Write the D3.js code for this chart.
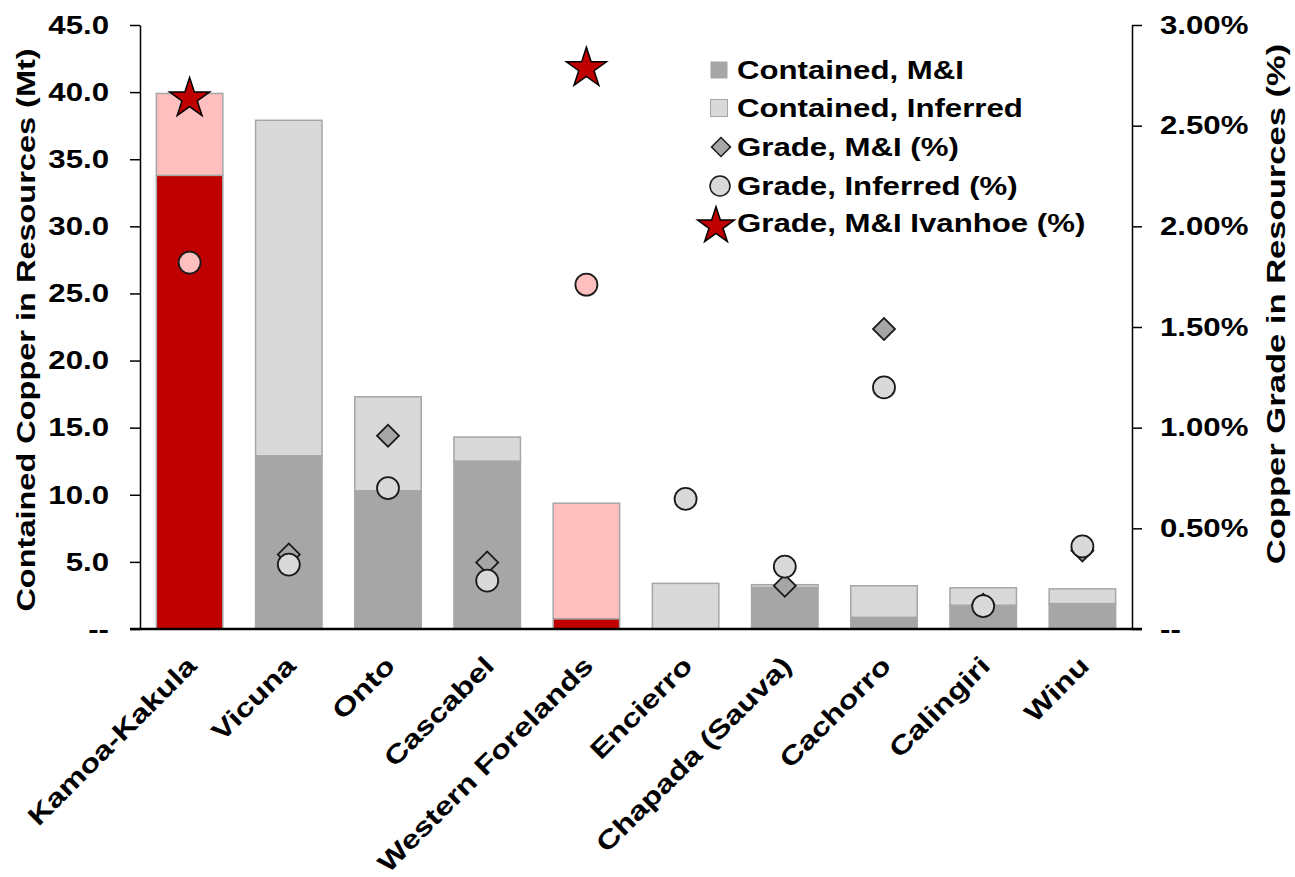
<!DOCTYPE html>
<html>
<head>
<meta charset="utf-8">
<script src="https://cdn.jsdelivr.net/npm/d3@7"></script>
<style>
  body { margin: 0; background: #fff; }
  svg { display: block; font-family: "Liberation Sans", Arial, sans-serif; font-weight: bold; }
</style>
</head>
<body>
<svg width="1295" height="877"></svg>
<script>
// data
const categories = ["Kamoa-Kakula", "Vicuna", "Onto", "Cascabel", "Western Forelands",
  "Encierro", "Chapada (Sauva)", "Cachorro", "Calingiri", "Winu"]
const containedMI = [33.8, 12.9, 10.3, 12.5, 0.77, 0, 3.1, 0.87, 1.77, 1.89]
const containedInferred = [6.1, 25.0, 7.0, 1.8, 8.6, 3.4, 0.2, 2.35, 1.3, 1.1]
const gradeMI = [null, 0.37, 0.96, 0.33, null, null, 0.215, 1.49, 0.12, 0.39]
const gradeInferred = [1.82, 0.32, 0.70, 0.24, 1.71, 0.646, 0.31, 1.20, 0.114, 0.41]
const gradeIvanhoe = [2.65, null, null, null, 2.80, null, null, null, null, null]
const ivanhoeProjects = ["Kamoa-Kakula", "Western Forelands"]

const leftTicks = [0, 5, 10, 15, 20, 25, 30, 35, 40, 45]
const rightTicks = [0, 0.5, 1, 1.5, 2, 2.5, 3]
const legendLabels = ["Contained, M&I", "Contained, Inferred", "Grade, M&I (%)",
  "Grade, Inferred (%)", "Grade, M&I Ivanhoe (%)"]

const red = "#c00000", pink = "#ffbfbf", dark = "#a6a6a6", light = "#d9d9d9"
const sx = 1.2  // text in the picture is drawn wide

const padL = 140, padR = 1132, padT = 25, padB = 629

let svg = d3.select("svg")

let xScale = d3.scaleBand()
  .domain(categories)
  .range([padL, padR])
  .paddingInner(0.33)
  .paddingOuter(0.165)

let yScale = d3.scaleLinear().domain([0, 45]).range([padB, padT])
let y2Scale = d3.scaleLinear().domain([0, 3]).range([padB, padT])

let isIvanhoe = (i) => ivanhoeProjects.includes(categories[i])

// bars
let rows = categories.map((c, i) => ({ c: c, i: i, mi: containedMI[i], inf: containedInferred[i] }))

svg.append("g").selectAll("rect.mi")
  .data(rows.filter(d => d.mi > 0))
  .enter()
  .append("rect")
  .attr("x", d => xScale(d.c))
  .attr("width", xScale.bandwidth())
  .attr("y", d => yScale(d.mi))
  .attr("height", d => yScale(0) - yScale(d.mi))
  .attr("fill", d => isIvanhoe(d.i) ? red : dark)
  .attr("stroke", dark)
  .attr("stroke-width", 1.5)

svg.append("g").selectAll("rect.inf")
  .data(rows)
  .enter()
  .append("rect")
  .attr("x", d => xScale(d.c))
  .attr("width", xScale.bandwidth())
  .attr("y", d => yScale(d.mi + d.inf))
  .attr("height", d => yScale(d.mi) - yScale(d.mi + d.inf))
  .attr("fill", d => isIvanhoe(d.i) ? pink : light)
  .attr("stroke", dark)
  .attr("stroke-width", 1.5)

// axes
let yAxis = d3.axisLeft(yScale).tickValues(leftTicks).tickSize(10).tickSizeOuter(0)
  .tickFormat(d => d === 0 ? "--" : d3.format(".1f")(d))
let y2Axis = d3.axisRight(y2Scale).tickValues(rightTicks).tickSize(10).tickSizeOuter(0)
  .tickFormat(d => d === 0 ? "--" : d3.format(".2f")(d) + "%")

let gy = svg.append("g").attr("transform", "translate(" + padL + ",0)").call(yAxis)
let gy2 = svg.append("g").attr("transform", "translate(" + padR + ",0)").call(y2Axis)

;[gy, gy2].forEach(g => {
  g.select(".domain").attr("stroke", "#000").attr("stroke-width", 1.5)
  g.selectAll(".tick line").attr("stroke", "#000").attr("stroke-width", 1.5)
  g.selectAll(".tick text")
    .attr("font-size", 26)
    .attr("font-family", "'Liberation Sans', Arial, sans-serif")
    .attr("font-weight", "bold")
    .attr("fill", "#000")
})
gy.selectAll(".tick text").attr("x", -31 / sx).attr("transform", "scale(" + sx + ",1)")
gy2.selectAll(".tick text").attr("x", 28 / sx).attr("transform", "scale(" + sx + ",1)")

// baseline
svg.append("line")
  .attr("x1", padL - 10).attr("x2", padR + 10)
  .attr("y1", padB).attr("y2", padB)
  .attr("stroke", "#000").attr("stroke-width", 2.5)

// category labels
svg.append("g").selectAll("text")
  .data(categories)
  .enter()
  .append("text")
  .attr("transform", d => "translate(" + (xScale(d) + xScale.bandwidth() / 2 + 2) + "," + (padB + 32) + ") rotate(-45) scale(1.25,1)")
  .attr("text-anchor", "end")
  .attr("dy", "0.35em")
  .attr("font-size", 26)
  .text(d => d)

// axis titles
svg.append("text")
  .attr("transform", "translate(35," + ((padT + padB) / 2 + 3) + ") rotate(-90) scale(1.25,1)")
  .attr("text-anchor", "middle")
  .attr("font-size", 26)
  .text("Contained Copper in Resources (Mt)")

svg.append("text")
  .attr("transform", "translate(1285,304) rotate(-90) scale(1.33,1)")
  .attr("text-anchor", "middle")
  .attr("font-size", 26)
  .text("Copper Grade in Resources (%)")

// grade markers
let diamond = d3.symbol(d3.symbolSquare, 242)
let star = d3.symbol(d3.symbolStar, 500)

svg.append("g").selectAll("path")
  .data(rows.filter(d => gradeMI[d.i] !== null))
  .enter()
  .append("path")
  .attr("d", diamond)
  .attr("transform", d => "translate(" + (xScale(d.c) + xScale.bandwidth() / 2) + "," + y2Scale(gradeMI[d.i]) + ") rotate(45)")
  .attr("fill", dark)
  .attr("stroke", "#1a1a1a")
  .attr("stroke-width", 1.8)

svg.append("g").selectAll("circle")
  .data(rows.filter(d => gradeInferred[d.i] !== null))
  .enter()
  .append("circle")
  .attr("cx", d => xScale(d.c) + xScale.bandwidth() / 2)
  .attr("cy", d => y2Scale(gradeInferred[d.i]))
  .attr("r", 11)
  .attr("fill", d => isIvanhoe(d.i) ? pink : light)
  .attr("stroke", "#1a1a1a")
  .attr("stroke-width", 1.8)

svg.append("g").selectAll("path")
  .data(rows.filter(d => gradeIvanhoe[d.i] !== null))
  .enter()
  .append("path")
  .attr("d", star)
  .attr("transform", d => "translate(" + (xScale(d.c) + xScale.bandwidth() / 2) + "," + (y2Scale(gradeIvanhoe[d.i]) + 3) + ")")
  .attr("fill", red)
  .attr("stroke", "#000")
  .attr("stroke-width", 1.5)

// legend
let legend = svg.append("g")
let rowY = [70, 108, 147, 186, 223]
let markX = 719

legend.append("rect").attr("x", markX - 8.5).attr("y", rowY[0] - 8.5).attr("width", 17).attr("height", 17).attr("fill", dark)
legend.append("rect").attr("x", markX - 8.5).attr("y", rowY[1] - 8.5).attr("width", 17).attr("height", 17)
  .attr("fill", light).attr("stroke", dark).attr("stroke-width", 1)
legend.append("path").attr("d", d3.symbol(d3.symbolSquare, 180))
  .attr("transform", "translate(" + (markX + 2) + "," + rowY[2] + ") rotate(45)")
  .attr("fill", dark).attr("stroke", "#1a1a1a").attr("stroke-width", 1.5)
legend.append("circle").attr("cx", markX + 1).attr("cy", rowY[3]).attr("r", 10)
  .attr("fill", light).attr("stroke", "#1a1a1a").attr("stroke-width", 1.5)
legend.append("path").attr("d", d3.symbol(d3.symbolStar, 420))
  .attr("transform", "translate(" + (markX - 3) + "," + (rowY[4] + 3) + ")")
  .attr("fill", red).attr("stroke", "#000").attr("stroke-width", 1.5)

legend.selectAll("text")
  .data(legendLabels)
  .enter()
  .append("text")
  .attr("transform", (d, i) => "translate(737," + (rowY[i] + 9) + ") scale(" + sx + ",1)")
  .attr("font-size", 26)
  .text(d => d)
</script>
</body>
</html>
